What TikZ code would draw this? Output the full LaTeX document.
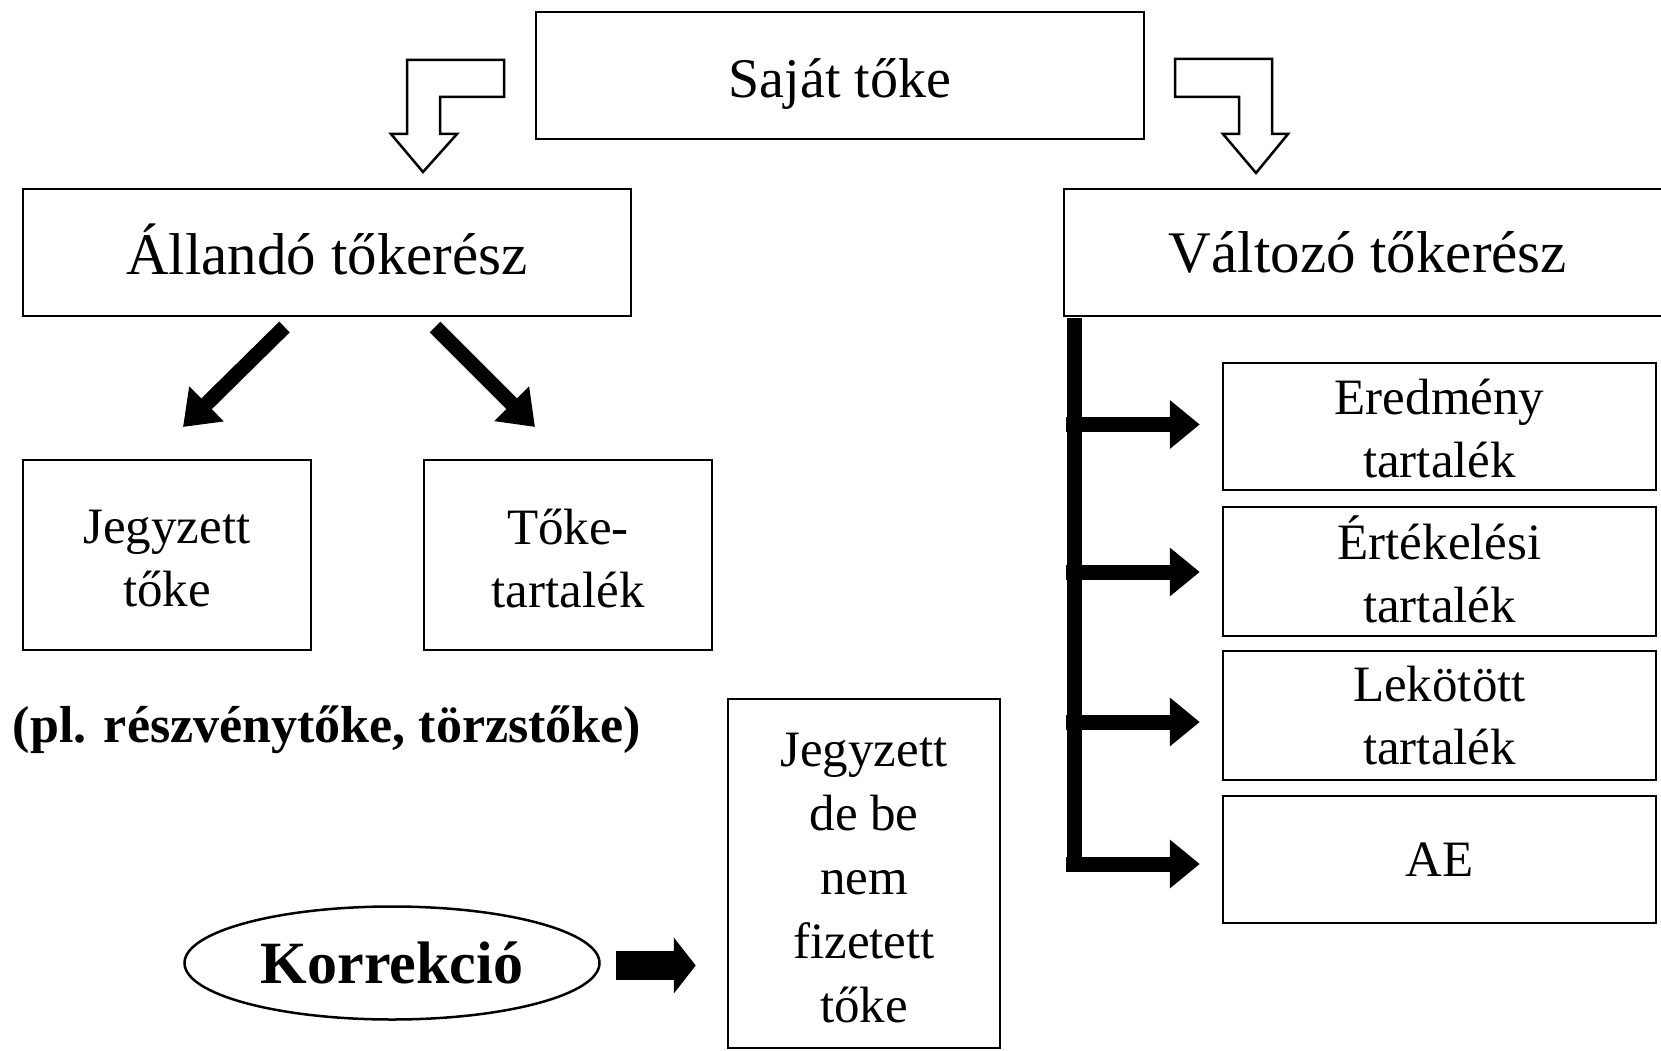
\documentclass[tikz,border=0pt]{standalone}
\usepackage{fontspec}
\setmainfont{Liberation Serif}
\usetikzlibrary{arrows.meta,shapes.geometric,calc}
\begin{document}
\begin{tikzpicture}[x=1pt,y=-1pt,
  box/.style={draw, line width=2.5pt, inner sep=0pt, align=center, font=\fontsize{51}{63}\selectfont},
  bigbox/.style={box, minimum width=608pt, minimum height=127pt, font=\fontsize{59}{70}\selectfont},
  rbox/.style={box, minimum width=433pt},
  txt/.style={inner sep=0pt, align=center, font=\fontsize{51}{63}\selectfont},
  bigtxt/.style={txt, font=\fontsize{59}{70}\selectfont},
  hollow/.style={draw, line width=2.5pt, fill=white, line join=miter},
  darrow/.style={line width=15pt, -{Triangle[length=33pt,width=47pt]}},
  tarrow/.style={line width=15pt, shorten >=22pt, -{Triangle[length=30pt,width=47pt]}},
  karrow/.style={line width=29pt, -{Triangle[length=22pt,width=55pt]}}
]
\useasboundingbox (0,0) rectangle (1661,1051);
\clip (0,0) rectangle (1661,1051);

% top boxes
\node[bigbox, label={[bigtxt, font=\fontsize{56}{66}\selectfont, yshift=-8pt]center:Saját tőke}] (saj) at (840,75.5) {};
\node[bigbox, label={[bigtxt, yshift=3pt]center:Állandó tőkerész}] (all) at (327,252.5) {};
\node[bigbox] (val) at (1368,252.5) {Változó tőkerész};

% left boxes
\node[box, minimum width=288pt, minimum height=190pt, label={[txt, yshift=-4pt]center:{Jegyzett\\tőke}}] (jeg) at (167,555) {};
\node[box, minimum width=288pt, minimum height=190pt, label={[txt, yshift=-4pt]center:{Tőke-\\tartalék}}] (tt) at (568,555) {};
\node[anchor=base, inner sep=0pt, font=\fontsize{52}{62}\selectfont\bfseries] (pl) at (327,742) {(pl. részvénytőke, törzstőke)};

% right boxes
\node[rbox, minimum height=127pt, label={[txt, yshift=-2pt]center:{Eredmény\\tartalék}}] (ere) at (1439.5,426.5) {};
\node[rbox, minimum height=129pt, label={[txt, yshift=2pt]center:{Értékelési\\tartalék}}] (ert) at (1439.5,571.5) {};
\node[rbox, minimum height=129pt] (lek) at (1439.5,715.5) {Lekötött\\tartalék};
\node[rbox, minimum height=127pt] (ae) at (1439.5,859.5) {AE};

% bottom
\node[box, minimum width=272pt, minimum height=349pt, label={[txt, font=\fontsize{51}{64}\selectfont, yshift=-5pt]center:{Jegyzett\\de be\\nem\\fizetett\\tőke}}] (jdb) at (864,873.5) {};
\node[draw, ellipse, line width=2.5pt, minimum width=415pt, minimum height=113pt, inner sep=0pt, font=\fontsize{60}{70}\selectfont\bfseries] (kor) at (392,963) {Korrekció};
\draw[karrow] ($(kor.east)+(15,2.5)$) -- ($(jdb.west)+(-31,92)$);

% hollow arrows from Saját tőke
\draw[hollow] (504,60) -- (407,60) -- (407,134) -- (391,134) -- (423,172) -- (457,134) -- (440,134) -- (440,97) -- (504,97) -- cycle;
\draw[hollow] (1175,59) -- (1272,59) -- (1272,134) -- (1288,134) -- (1256,173) -- (1223,134) -- (1239,134) -- (1239,97) -- (1175,97) -- cycle;

% diagonal arrows
\coordinate (d1s) at (284.5,327);
\coordinate (d1e) at (183,427);
\coordinate (d2s) at (435,327);
\coordinate (d2e) at (535,427);
\draw[darrow] (d1s) -- (d1e);
\draw[darrow] (d2s) -- (d2e);

% bracket
\coordinate (bt) at (1074.5,318);
\coordinate (bb) at (1074.5,872);
\draw[line width=15pt] (bt) -- (bb);
\coordinate (h1) at (1066,424.5);
\coordinate (h2) at (1066,572);
\coordinate (h3) at (1066,722);
\coordinate (h4) at (1066,864);
\draw[tarrow] (h1) -- (h1 -| ere.west);
\draw[tarrow] (h2) -- (h2 -| ert.west);
\draw[tarrow] (h3) -- (h3 -| lek.west);
\draw[tarrow] (h4) -- (h4 -| ae.west);
\end{tikzpicture}
\end{document}
